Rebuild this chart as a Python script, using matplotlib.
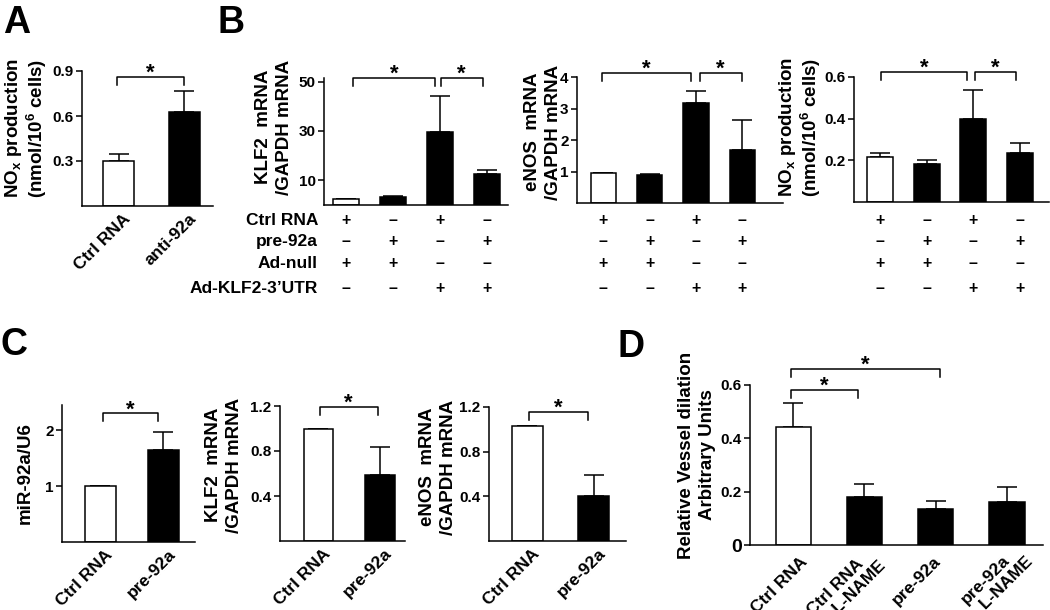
import numpy as np
import matplotlib
matplotlib.use('Agg')
import matplotlib.pyplot as plt
from matplotlib.transforms import blended_transform_factory, ScaledTranslation

plt.rcParams['font.family'] = ['Liberation Sans', 'DejaVu Sans']
plt.rcParams['font.weight'] = 'bold'
plt.rcParams['axes.labelweight'] = 'bold'
plt.rcParams['mathtext.fontset'] = 'custom'
plt.rcParams['mathtext.rm'] = 'Liberation Sans:bold'
plt.rcParams['mathtext.it'] = 'Liberation Sans:bold'
plt.rcParams['mathtext.bf'] = 'Liberation Sans:bold'
plt.rcParams['mathtext.default'] = 'rm'
plt.rcParams['axes.linewidth'] = 1.1

# ---- data ----
# A
a_groups = ['Ctrl RNA', 'anti-92a']
a_nox = [0.30, 0.63]
a_nox_err = [0.047, 0.14]

# B
b_rows = ['Ctrl RNA', 'pre-92a', 'Ad-null', 'Ad-KLF2-3\u2019UTR']
b_ctrl = ['+', '\u2013', '+', '\u2013']
b_pre = ['\u2013', '+', '\u2013', '+']
b_adnull = ['+', '+', '\u2013', '\u2013']
b_adklf2 = ['\u2013', '\u2013', '+', '+']
b_klf2 = [2.4, 3.2, 29.5, 12.4]
b_klf2_err = [0.0, 0.4, 14.5, 1.8]
b_enos = [0.95, 0.88, 3.17, 1.69]
b_enos_err = [0.0, 0.05, 0.38, 0.95]
b_nox = [0.217, 0.181, 0.397, 0.233]
b_nox_err = [0.016, 0.02, 0.14, 0.051]

# C
c_groups = ['Ctrl RNA', 'pre-92a']
c_mir = [1.0, 1.65]
c_mir_err = [0.0, 0.32]
c_klf2 = [1.0, 0.59]
c_klf2_err = [0.0, 0.25]
c_enos = [1.03, 0.40]
c_enos_err = [0.0, 0.19]

# D
d_groups = ['Ctrl RNA', 'Ctrl RNA\n    L-NAME', 'pre-92a', 'pre-92a\n  L-NAME']
d_dilation = [0.444, 0.181, 0.134, 0.162]
d_dilation_err = [0.09, 0.048, 0.032, 0.057]

W, H = 1050, 610
fig = plt.figure(figsize=(W / 100, H / 100), dpi=100)


def px_axes(left, right, top, bottom):
    return fig.add_axes([left / W, 1 - bottom / H, (right - left) / W, (bottom - top) / H])


def bar_panel(ax, vals, errs, ylim, yticks, xlim, width):
    x = np.arange(len(vals))
    colors = ['white'] + ['black'] * (len(vals) - 1)
    ax.bar(x, vals, width=width, color=colors, edgecolor='black', linewidth=1.1, zorder=2)
    ax.errorbar(x, vals, yerr=[np.zeros(len(vals)), errs], fmt='none', ecolor='black',
                elinewidth=1.1, capsize=7, capthick=1.1, zorder=1)
    ax.set_ylim(ylim)
    ax.set_xlim(xlim)
    ax.set_yticks(yticks)
    ax.set_yticklabels([('%g' % t) for t in yticks], fontweight='bold')
    ax.spines['top'].set_visible(False)
    ax.spines['right'].set_visible(False)
    ax.tick_params(axis='y', length=4, width=1.1, labelsize=11, pad=2)
    ax.tick_params(axis='x', length=0, labelsize=12.5, pad=0)
    ax.set_xticks(x)
    ax.set_xticklabels([])


def xlabels(ax, labels, offsets=None):
    ax.set_xticklabels(labels, rotation=45, ha='right', rotation_mode='anchor',
                       multialignment='left', fontweight='bold')
    if offsets is None:
        offsets = [(4, 5)] * len(labels)
    for lab, (dx, dy) in zip(ax.get_xticklabels(), offsets):
        off = ScaledTranslation(dx / 100, -dy / 100, fig.dpi_scale_trans)
        lab.set_transform(lab.get_transform() + off)


def ylabel(ax, text, right_px, ymid_px, spacing=1.3):
    ax.set_ylabel(text, fontsize=13.5, linespacing=spacing)
    ax.yaxis.set_label_coords(right_px / W, 1 - ymid_px / H, transform=fig.transFigure)


def bracket(ax, x1, x2, y, drop):
    ax.plot([x1, x1, x2, x2], [y - drop, y, y, y - drop], color='black', lw=1.1, clip_on=False)
    ax.annotate('*', xy=((x1 + x2) / 2, y), xytext=(0, -5), textcoords='offset points',
                ha='center', va='bottom', fontsize=16, annotation_clip=False)


# ---- A ----
axA = px_axes(82, 213, 71, 206)
bar_panel(axA, a_nox, a_nox_err, (0, 0.9), [0.3, 0.6, 0.9], (-0.557, 1.44), 0.47)
xlabels(axA, a_groups)
ylabel(axA, 'NO$_x$ production\n(nmol/10$^6$ cells)', 49, 128, 1.05)
bracket(axA, -0.02, 1.0, 0.86, 0.053)

# ---- B ----
axB1 = px_axes(324, 508, 77.8, 205)
bar_panel(axB1, b_klf2, b_klf2_err, (0, 51.5), [10, 30, 50], (-0.47, 3.45), 0.56)
ylabel(axB1, 'KLF2  mRNA\n/GAPDH mRNA', 293, 127)
bracket(axB1, 0.15, 1.9, 51.4, 3.2)
bracket(axB1, 2.02, 2.91, 51.4, 3.2)

axB2 = px_axes(577, 783, 77, 203)
bar_panel(axB2, b_enos, b_enos_err, (0, 4), [1, 2, 3, 4], (-0.57, 3.88), 0.55)
ylabel(axB2, 'eNOS  mRNA\n/GAPDH mRNA', 562, 132)
bracket(axB2, -0.03, 1.89, 4.12, 0.24)
bracket(axB2, 2.08, 2.99, 4.12, 0.24)

axB3 = px_axes(854, 1049, 77, 202)
bar_panel(axB3, b_nox, b_nox_err, (0, 0.6), [0.2, 0.4, 0.6], (-0.56, 3.62), 0.56)
ylabel(axB3, 'NO$_x$ production\n(nmol/10$^6$ cells)', 823, 127, 1.05)
bracket(axB3, 0.02, 1.86, 0.624, 0.04)
bracket(axB3, 2.03, 2.91, 0.624, 0.04)

# treatment table under the B panels
row_base = [225, 246, 268, 293]
table = [b_ctrl, b_pre, b_adnull, b_adklf2]
for r, name in enumerate(b_rows):
    fig.text(318 / W, 1 - row_base[r] / H, name, ha='right', va='baseline', fontsize=12.5)
for ax in [axB1, axB2, axB3]:
    tr = blended_transform_factory(ax.transData, fig.transFigure)
    for r, signs in enumerate(table):
        for i, s in enumerate(signs):
            ax.text(i, 1 - row_base[r] / H, s, transform=tr, ha='center', va='baseline',
                    fontsize=11.5, clip_on=False)

# ---- C ----
axC1 = px_axes(62, 195, 405, 542)
bar_panel(axC1, c_mir, c_mir_err, (0, 2.45), [1, 2], (-0.61, 1.5), 0.49)
xlabels(axC1, c_groups)
ylabel(axC1, 'miR-92a/U6', 34, 473)
bracket(axC1, 0.04, 0.92, 2.3, 0.14)

axC2 = px_axes(280, 405, 406, 541)
bar_panel(axC2, c_klf2, c_klf2_err, (0, 1.2), [0.4, 0.8, 1.2], (-0.62, 1.4), 0.48)
xlabels(axC2, c_groups)
ylabel(axC2, 'KLF2  mRNA\n/GAPDH mRNA', 243, 465)
bracket(axC2, 0.02, 0.96, 1.19, 0.07)

axC3 = px_axes(489, 626, 407, 541)
bar_panel(axC3, c_enos, c_enos_err, (0, 1.2), [0.4, 0.8, 1.2], (-0.58, 1.49), 0.48)
xlabels(axC3, c_groups)
ylabel(axC3, 'eNOS  mRNA\n/GAPDH mRNA', 457, 467)
bracket(axC3, 0.02, 0.92, 1.155, 0.072)

# ---- D ----
axD = px_axes(750, 1043, 385, 545)
bar_panel(axD, d_dilation, d_dilation_err, (0, 0.6), [0, 0.2, 0.4, 0.6], (-0.61, 3.51), 0.5)
axD.yaxis.get_major_ticks()[0].label1.set_fontsize(14)
xlabels(axD, d_groups, [(6, 9), (1, 1), (-3, 9), (6, -3)])
ylabel(axD, 'Relative Vessel dilation\nArbitrary Units', 716, 455)
bracket(axD, -0.04, 0.91, 0.581, 0.03)
bracket(axD, -0.04, 2.06, 0.66, 0.03)

# panel letters
for letter, x, y in [('A', 3, 33), ('B', 218, 33), ('C', 0, 355), ('D', 618, 357)]:
    fig.text(x / W, 1 - y / H, letter, fontsize=27, fontweight='bold', ha='left', va='baseline')

fig.savefig('out.png', dpi=100)
